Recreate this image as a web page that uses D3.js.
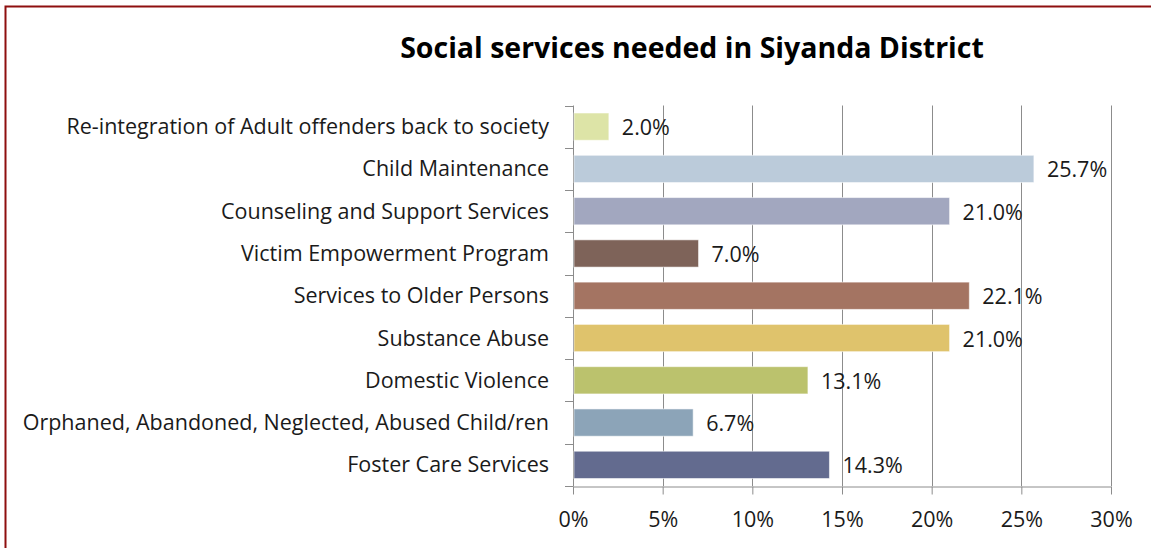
<!DOCTYPE html>
<html>
<head>
<meta charset="utf-8">
<script src="https://cdn.jsdelivr.net/npm/d3@7/dist/d3.min.js"></script>
<style>
  html, body { margin: 0; padding: 0; background: #fff; }
  svg { display: block; }
  text { font-family: "Open Sans", "Noto Sans", sans-serif; fill: #1a1a1a; }
</style>
</head>
<body>
<svg id="chart" width="1151" height="548"></svg>
<script>
// Services, listed top to bottom
const categories = [
  "Re-integration of Adult offenders back to society",
  "Child Maintenance",
  "Counseling and Support Services",
  "Victim Empowerment Program",
  "Services to Older Persons",
  "Substance Abuse",
  "Domestic Violence",
  "Orphaned, Abandoned, Neglected, Abused Child/ren",
  "Foster Care Services"
];
// Share of respondents needing each service (%)
const values = [2.0, 25.7, 21.0, 7.0, 22.1, 21.0, 13.1, 6.7, 14.3];
const barColors = [
  "#dde4a7", "#bbcbda", "#a2a7bf", "#7e6359", "#a47462",
  "#dfc36c", "#bbc26d", "#8ca4b8", "#636b8f"
];
const xTicks = [0, 5, 10, 15, 20, 25, 30];
const title = "Social services needed in Siyanda District";

const svg = d3.select("#chart");

// Outer frame
svg.append("rect")
  .attr("x", 5.5).attr("y", 6.5)
  .attr("width", 1200).attr("height", 600)
  .attr("fill", "none")
  .attr("stroke", "#8e0f0f")
  .attr("stroke-width", 2);

const plot = { left: 573, right: 1111, top: 105.5, bottom: 486 };
const labelSize = "21.5px";

const x = d3.scaleLinear().domain([0, 30]).range([plot.left, plot.right]);
const y = d3.scaleBand().domain(categories)
  .range([plot.top, plot.bottom])
  .paddingInner(0.355).paddingOuter(0.1775);

// Title
svg.append("text")
  .attr("x", 692).attr("y", 47)
  .attr("text-anchor", "middle").attr("dominant-baseline", "central")
  .style("font-weight", "bold").style("font-size", "28.5px")
  .style("fill", "#000")
  .text(title);

// Vertical gridlines
svg.append("g").selectAll("line")
  .data(xTicks.filter(t => t > 0))
  .join("line")
  .attr("x1", d => Math.round(x(d)) + 0.5).attr("x2", d => Math.round(x(d)) + 0.5)
  .attr("y1", plot.top).attr("y2", plot.bottom)
  .attr("stroke", "#8c8c8c").attr("stroke-width", 1);

// Bottom axis
const xAxis = d3.axisBottom(x)
  .tickValues(xTicks)
  .tickFormat(d => d + "%")
  .tickSize(8)
  .tickPadding(17)
  .tickSizeOuter(0);
const gx = svg.append("g")
  .attr("transform", `translate(0,${Math.round(plot.bottom) + 0.5})`)
  .call(xAxis);
gx.select(".domain").attr("stroke", "#8c8c8c");
gx.selectAll(".tick line").attr("stroke", "#8c8c8c");
gx.selectAll(".tick text")
  .style("font-size", labelSize).style("font-family", "'Open Sans', sans-serif")
  .attr("fill", "#1a1a1a");

// Left axis with ticks at category boundaries
const edges = d3.range(categories.length + 1).map(i =>
  i === categories.length ? plot.bottom : y(categories[i]) - y.step() * y.paddingInner() / 2);
const gy = svg.append("g");
gy.append("line")
  .attr("x1", plot.left + 0.5).attr("x2", plot.left + 0.5)
  .attr("y1", plot.top).attr("y2", plot.bottom)
  .attr("stroke", "#8c8c8c");
gy.selectAll("line.tick")
  .data(edges)
  .join("line").attr("class", "tick")
  .attr("x1", plot.left - 8).attr("x2", plot.left + 0.5)
  .attr("y1", d => Math.round(d) + 0.5).attr("y2", d => Math.round(d) + 0.5)
  .attr("stroke", "#8c8c8c");

// Category labels
svg.append("g").selectAll("text")
  .data(categories)
  .join("text")
  .attr("x", plot.left - 24)
  .attr("y", d => y(d) + y.bandwidth() / 2 - 1)
  .attr("text-anchor", "end").attr("dominant-baseline", "central")
  .style("font-size", labelSize)
  .text(d => d);

// Bars
svg.append("g").selectAll("rect")
  .data(values)
  .join("rect")
  .attr("x", x(0) + 1)
  .attr("y", (d, i) => y(categories[i]))
  .attr("width", d => x(d) - x(0) - 1)
  .attr("height", y.bandwidth())
  .attr("fill", (d, i) => barColors[i])
  .attr("stroke", "rgba(255,255,255,0.55)")
  .attr("stroke-width", 1);

// Value labels
svg.append("g").selectAll("text")
  .data(values)
  .join("text")
  .attr("x", d => x(d) + 13)
  .attr("y", (d, i) => y(categories[i]) + y.bandwidth() / 2)
  .attr("dominant-baseline", "central")
  .style("font-size", labelSize)
  .text(d => d.toFixed(1) + "%");
</script>
</body>
</html>
